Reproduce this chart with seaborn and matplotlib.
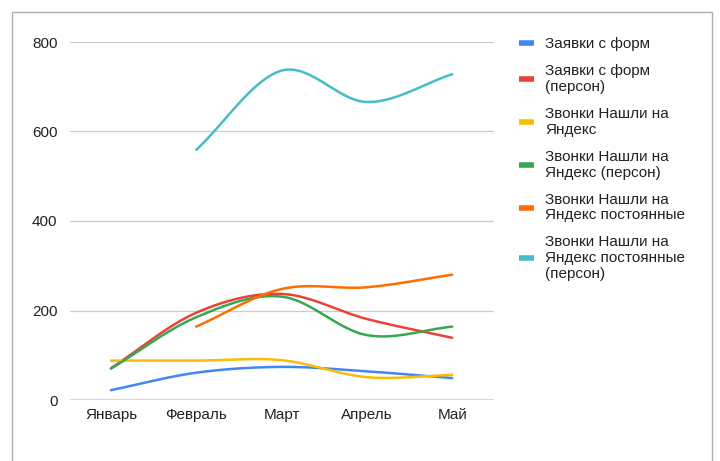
import numpy as np
import pandas as pd
import matplotlib
matplotlib.use("Agg")
import matplotlib.pyplot as plt
import seaborn as sns
from matplotlib.patches import Rectangle

months = ["Январь", "Февраль", "Март", "Апрель", "Май"]

zayavki = [22, 61, 74, 64, 49]
zayavki_person = [71, 195, 237, 181, 139]
zvonki = [88, 88, 89, 51, 56]
zvonki_person = [70, 185, 231, 145, 164]
zvonki_post = [None, 164, 248, 252, 280]
zvonki_post_person = [None, 559, 736, 666, 728]

series_names = [
    "Заявки с форм",
    "Заявки с форм\n(персон)",
    "Звонки Нашли на\nЯндекс",
    "Звонки Нашли на\nЯндекс (персон)",
    "Звонки Нашли на\nЯндекс постоянные",
    "Звонки Нашли на\nЯндекс постоянные\n(персон)",
]
series_values = [zayavki, zayavki_person, zvonki, zvonki_person, zvonki_post, zvonki_post_person]
colors = ["#4285F4", "#EA4335", "#FBBC04", "#34A853", "#FF6D01", "#46BDC6"]

yticks = [0, 200, 400, 600, 800]


def smooth(xs, ys, n=40):
    xs = np.asarray(xs, float)
    ys = np.asarray(ys, float)
    k = len(xs)
    mx = np.zeros(k)
    my = np.zeros(k)
    for i in range(k):
        if i == 0:
            mx[i], my[i] = xs[1] - xs[0], ys[1] - ys[0]
        elif i == k - 1:
            mx[i], my[i] = xs[-1] - xs[-2], ys[-1] - ys[-2]
        else:
            mx[i], my[i] = (xs[i + 1] - xs[i - 1]) / 2, (ys[i + 1] - ys[i - 1]) / 2
    ox, oy = [], []
    for i in range(k - 1):
        t = np.linspace(0, 1, n, endpoint=(i == k - 2))
        h00 = 2 * t**3 - 3 * t**2 + 1
        h10 = t**3 - 2 * t**2 + t
        h01 = -2 * t**3 + 3 * t**2
        h11 = t**3 - t**2
        ox.append(h00 * xs[i] + h10 * mx[i] + h01 * xs[i + 1] + h11 * mx[i + 1])
        oy.append(h00 * ys[i] + h10 * my[i] + h01 * ys[i + 1] + h11 * my[i + 1])
    return np.concatenate(ox), np.concatenate(oy)


sns.set_style("white")
plt.rcParams["font.family"] = ["Liberation Sans", "DejaVu Sans"]

fig = plt.figure(figsize=(7.2, 4.61), dpi=100)
ax = fig.add_axes([70 / 720, (461 - 400) / 461, (494 - 70) / 720, (400 - 42) / 461])

# spreadsheet chart frame
fig.patches.append(Rectangle((12 / 720, -0.05), (712 - 12) / 720, (461 - 12) / 461 + 0.05,
                             transform=fig.transFigure, fill=False, edgecolor="#b0b0b0",
                             linewidth=1.0, zorder=0))

for name, vals, col in zip(series_names, series_values, colors):
    idx = [i for i, v in enumerate(vals) if v is not None]
    xs = [i for i in idx]
    ys = [vals[i] for i in idx]
    sx, sy = smooth(xs, ys)
    df = pd.DataFrame({"x": sx, "y": sy})
    sns.lineplot(data=df, x="x", y="y", ax=ax, color=col, linewidth=1.8,
                 label=name, estimator=None, sort=False)

ax.set_xlim(-0.48, 4.49)
ax.set_ylim(0, 800)
ax.set_yticks(yticks)
ax.set_yticklabels([str(v) for v in yticks])
ax.set_xticks(range(len(months)))
ax.set_xticklabels(months)
ax.set_xlabel("")
ax.set_ylabel("")
for v in yticks[1:]:
    ax.axhline(v, color="#cccccc", linewidth=0.9, zorder=0)
ax.axhline(0, color="#333333", linewidth=1.0, zorder=1)
for s in ax.spines.values():
    s.set_visible(False)
ax.tick_params(axis="both", length=0, labelsize=11, colors="#222222")
ax.tick_params(axis="y", pad=9)
ax.tick_params(axis="x", pad=6)

leg = ax.legend(loc="upper left", bbox_to_anchor=(519 / 720, (461 - 37) / 461),
                bbox_transform=fig.transFigure, frameon=False, fontsize=11,
                handlelength=1.0, handletextpad=0.7, labelspacing=0.85,
                borderaxespad=0, borderpad=0)
for line in leg.get_lines():
    line.set_linewidth(4.0)
    line.set_solid_capstyle("butt")
for t in leg.get_texts():
    t.set_color("#222222")
    t.set_linespacing(1.17)

fig.savefig("out.png", dpi=100)
